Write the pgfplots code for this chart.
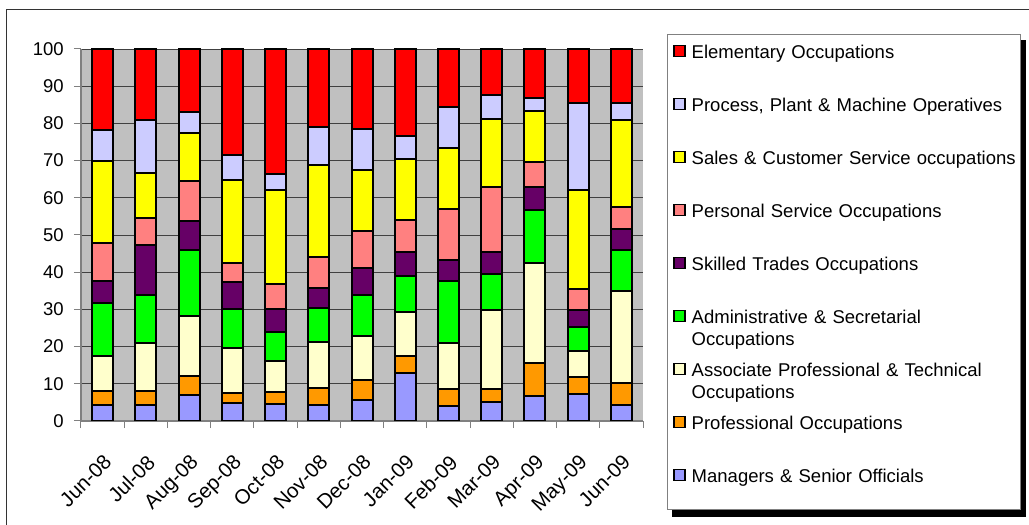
\documentclass[border=0pt]{standalone}
\usepackage{fontspec}
\setmainfont{Liberation Sans}
\usepackage{pgfplots}
\usepackage{pgfplotstable}
\pgfplotsset{compat=1.18}
\definecolor{cMan}{HTML}{9999FF}
\definecolor{cProf}{HTML}{FF9900}
\definecolor{cAssoc}{HTML}{FFFFCC}
\definecolor{cAdmin}{HTML}{00FF00}
\definecolor{cSkill}{HTML}{660066}
\definecolor{cPers}{HTML}{FF8080}
\definecolor{cSales}{HTML}{FFFF00}
\definecolor{cProc}{HTML}{CCCCFF}
\definecolor{cElem}{HTML}{FF0000}
\definecolor{silverbg}{HTML}{C0C0C0}
\newcommand{\fs}{\fontsize{18.5}{22}\selectfont}
\newcommand{\fx}{\fontsize{20.5}{24}\selectfont}
\pgfplotstableread{
x Man Prof Assoc Admin Skill Pers Sales Proc Elem
0  4.2 3.9 9.4  14.2 5.9  10.3 22.1 8.1  21.9
1  4.2 3.9 12.9 12.9 13.3 7.5  12.0 14.1 19.2
2  7.0 5.1 16.0 18.0 7.6  10.7 13.1 5.5  17.0
3  4.9 2.7 12.0 10.4 7.3  5.1  22.5 6.6  28.5
4  4.7 3.2 8.3  7.6  6.2  6.9  25.3 4.3  33.5
5  4.3 4.5 12.5 9.1  5.3  8.4  24.8 10.2 20.9
6  5.7 5.4 11.8 11.1 7.1  10.0 16.3 11.0 21.6
7  12.9 4.5 12.0 9.5 6.4  8.6  16.5 6.2  23.4
8  4.0 4.7 12.3 16.7 5.5  13.8 16.3 11.2 15.5
9  5.1 3.4 21.4 9.5  6.0  17.5 18.2 6.6  12.3
10 6.7 8.9 26.8 14.3 6.2  6.6  13.9 3.4  13.2
11 7.2 4.7 6.8  6.7  4.5  5.6  26.7 23.4 14.4
12 4.3 6.0 24.6 11.0 5.8  5.9  23.3 4.5  14.6
}\data
\begin{document}
\fs
\begin{tikzpicture}[x=1pt,y=1pt]
\path[use as bounding box] (0,0) rectangle (1029,525);
\draw[black!80, line width=1pt] (6.5,0) -- (6.5,515) -- (1029,515);
\fill[black] (672,8) rectangle (1026,485);
\filldraw[fill=white, draw=gray, line width=1pt] (667,15) rectangle (1020,490);
\begin{axis}[
  at={(81pt,104pt)}, anchor=south west,
  scale only axis, width=562pt, height=372pt,
  ybar stacked, bar width=21pt,
  xmin=-0.5, xmax=12.5, ymin=0, ymax=100,
  xtick={0,...,12},
  xticklabels={Jun-08,Jul-08,Aug-08,Sep-08,Oct-08,Nov-08,Dec-08,Jan-09,Feb-09,Mar-09,Apr-09,May-09,Jun-09},
  minor xtick={-0.5,0.5,...,12.5},
  ytick={0,10,...,100},
  axis background/.style={fill=silverbg},
  axis x line*=bottom, axis y line*=left,
  axis line style={-, gray, line width=1.2pt},
  tick align=outside, tick pos=left,
  major tick length=7pt, minor tick length=7pt,
  tick style={gray, line width=1pt},
  major x tick style={draw=none},
  ymajorgrids, major grid style={black!75, line width=0.8pt},
  tick label style={font=\fs},
  /pgf/number format/assume math mode=true,
  xticklabel style={font=\fx, rotate=45, anchor=north east, inner sep=2pt, xshift=-16pt, yshift=-16pt},
  yticklabel style={xshift=-4pt},
  every axis plot/.append style={draw=black, line width=2pt},
  legend image code/.code={\draw[#1, line width=1.5pt] (0pt,2pt) rectangle (11pt,13pt);},
  reverse legend,
  legend style={at={(1.0538,1.0121)}, anchor=north west, draw=none, fill=none,
    inner sep=0pt, outer sep=0pt, row sep=0pt, column sep=6pt, font=\fs,
    nodes={text width=345pt, text height=14pt, text depth=39pt, inner sep=0pt, align=left, anchor=base west}},
]
\addplot[fill=cMan] table[x=x,y=Man]{\data};
\addlegendentry{Managers \& Senior Officials}
\addplot[fill=cProf] table[x=x,y=Prof]{\data};
\addlegendentry{Professional Occupations}
\addplot[fill=cAssoc] table[x=x,y=Assoc]{\data};
\addlegendentry{Associate Professional \& Technical\\Occupations}
\addplot[fill=cAdmin] table[x=x,y=Admin]{\data};
\addlegendentry{Administrative \& Secretarial\\Occupations}
\addplot[fill=cSkill] table[x=x,y=Skill]{\data};
\addlegendentry{Skilled Trades Occupations}
\addplot[fill=cPers] table[x=x,y=Pers]{\data};
\addlegendentry{Personal Service Occupations}
\addplot[fill=cSales] table[x=x,y=Sales]{\data};
\addlegendentry{Sales \& Customer Service occupations}
\addplot[fill=cProc] table[x=x,y=Proc]{\data};
\addlegendentry{Process, Plant \& Machine Operatives}
\addplot[fill=cElem] table[x=x,y=Elem]{\data};
\addlegendentry{Elementary Occupations}
\end{axis}
\end{tikzpicture}
\end{document}
